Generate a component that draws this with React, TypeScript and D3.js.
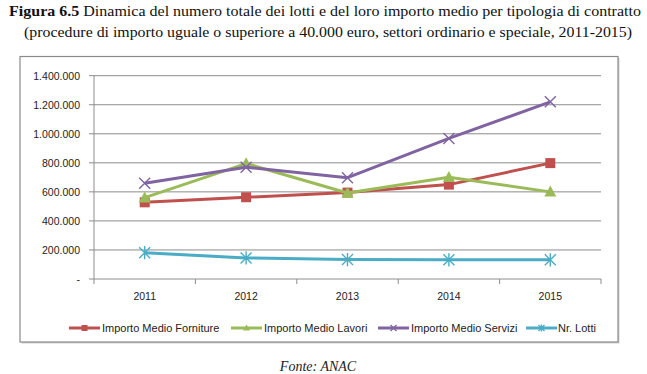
import React from "react";
import * as d3 from "d3";

const years = ["2011", "2012", "2013", "2014", "2015"];
const forniture = [528000, 563000, 595000, 650000, 798000];
const lavori = [560000, 795000, 592000, 700000, 600000];
const servizi = [660000, 770000, 698000, 968000, 1220000];
const lotti = [181000, 145000, 134000, 132000, 132000];
const yTicks = [0, 200000, 400000, 600000, 800000, 1000000, 1200000, 1400000];
const seriesNames = ["Importo Medio Forniture", "Importo Medio Lavori", "Importo Medio Servizi", "Nr. Lotti"];

const colors = ["#C0504D", "#9BBB59", "#8064A2", "#4BACC6"];
const seriesData = [forniture, lavori, servizi, lotti];

function fmt(v: number) {
  if (v === 0) return "-";
  return d3.format(",")(v).replace(/,/g, ".");
}

function Marker({ kind, x, y, color, s }: { kind: number; x: number; y: number; color: string; s: number }) {
  if (kind === 0) {
    return <rect x={x - s / 2} y={y - s / 2} width={s} height={s} fill={color} />;
  }
  if (kind === 1) {
    const h = s * 0.95;
    return (
      <path
        d={`M${x},${y - h * 0.6} L${x + s / 2 + 0.5},${y + h * 0.45} L${x - s / 2 - 0.5},${y + h * 0.45} Z`}
        fill={color}
      />
    );
  }
  const r = s / 2;
  if (kind === 2) {
    return (
      <path d={`M${x - r},${y - r} L${x + r},${y + r} M${x - r},${y + r} L${x + r},${y - r}`} stroke={color} strokeWidth={1.4} fill="none" />
    );
  }
  return (
    <path
      d={`M${x - r},${y - r} L${x + r},${y + r} M${x - r},${y + r} L${x + r},${y - r} M${x},${y - r * 1.2} L${x},${y + r * 1.2}`}
      stroke={color}
      strokeWidth={1.4}
      fill="none"
    />
  );
}

export default function App() {
  const W = 647;
  const H = 374;
  const x0 = 94;
  const x1 = 601;
  const xBand = d3.scaleBand<string>().domain(years).range([x0, x1]).padding(0);
  const y = d3.scaleLinear().domain([0, 1400000]).range([279, 75.7]);
  const cx = (yr: string) => (xBand(yr) as number) + xBand.bandwidth() / 2;
  const line = d3
    .line<number>()
    .x((_, i) => cx(years[i]))
    .y((v) => y(v));

  const gridColor = "#8c8c8c";
  const boundaries = years.map((yr) => xBand(yr) as number).concat([x1]);

  const legendItems = [
    { lx: 69, tx: 102 },
    { lx: 231, tx: 264 },
    { lx: 378, tx: 411 },
    { lx: 526, tx: 558 },
  ];
  const legendY = 328;

  return (
    <svg width={W} height={H} style={{ position: "absolute", left: 0, top: 0, background: "#fff" }}>
      <rect x={0} y={0} width={W} height={H} fill="#fff" />
      <text x={325} y={16} textAnchor="middle" fontFamily="Liberation Serif, serif" fontSize={15} fill="#111" textLength={632} lengthAdjust="spacingAndGlyphs">
        <tspan fontWeight="bold">Figura 6.5</tspan> Dinamica del numero totale dei lotti e del loro importo medio per tipologia di contratto
      </text>
      <text x={328} y={37} textAnchor="middle" fontFamily="Liberation Serif, serif" fontSize={15} fill="#111" textLength={608} lengthAdjust="spacingAndGlyphs">
        (procedure di importo uguale o superiore a 40.000 euro, settori ordinario e speciale, 2011-2015)
      </text>

      {/* chart box with shadow */}
      <rect x={21.5} y={58} width={598} height={285.5} fill="#d0d0d0" />
      <rect x={20} y={56.5} width={598} height={285.5} fill="#fff" stroke="#8a8a8a" strokeWidth={1.2} />

      {/* gridlines */}
      {yTicks.map((t) => (
        <g key={t}>
          <line x1={x0} x2={x1} y1={y(t)} y2={y(t)} stroke={gridColor} strokeWidth={1} />
          <line x1={x0 - 5} x2={x0} y1={y(t)} y2={y(t)} stroke={gridColor} strokeWidth={1} />
          <text x={80} y={y(t) + 3.8} textAnchor="end" fontFamily="Liberation Sans, Arial, sans-serif" fontSize={10.5} fill="#222">
            {fmt(t)}
          </text>
        </g>
      ))}
      <line x1={x0} x2={x0} y1={y(1400000)} y2={y(0)} stroke={gridColor} strokeWidth={1} />
      {boundaries.map((b, i) => (
        <line key={i} x1={b} x2={b} y1={y(0)} y2={y(0) + 5} stroke={gridColor} strokeWidth={1} />
      ))}
      {years.map((yr) => (
        <text key={yr} x={cx(yr)} y={300} textAnchor="middle" fontFamily="Liberation Sans, Arial, sans-serif" fontSize={10.5} fill="#222">
          {yr}
        </text>
      ))}

      {/* series */}
      {seriesData.map((vals, si) => (
        <g key={si}>
          <path d={line(vals) as string} fill="none" stroke={colors[si]} strokeWidth={3} strokeLinejoin="round" />
          {vals.map((v, i) => (
            <Marker key={i} kind={si} x={cx(years[i])} y={y(v)} color={colors[si]} s={si === 0 ? 10 : si === 1 ? 11 : 11} />
          ))}
        </g>
      ))}

      {/* legend */}
      {legendItems.map((it, i) => (
        <g key={i}>
          <line x1={it.lx} x2={it.lx + 31} y1={legendY} y2={legendY} stroke={colors[i]} strokeWidth={3} />
          <Marker kind={i} x={it.lx + 15.5} y={legendY} color={colors[i]} s={6} />
          <text x={it.tx} y={legendY + 4} fontFamily="Liberation Sans, Arial, sans-serif" fontSize={11} fill="#222">
            {seriesNames[i]}
          </text>
        </g>
      ))}

      <text x={318} y={371} textAnchor="middle" fontFamily="Liberation Serif, serif" fontStyle="italic" fontSize={14} fill="#222">
        Fonte: ANAC
      </text>
    </svg>
  );
}
